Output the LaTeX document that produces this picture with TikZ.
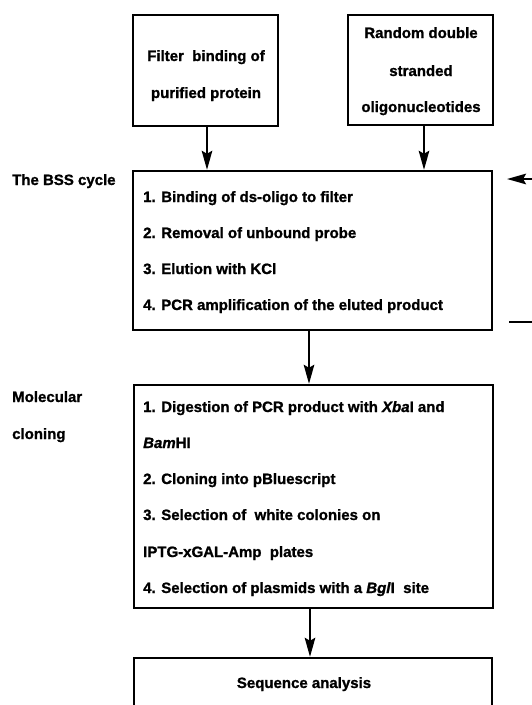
\documentclass[tikz,border=0pt]{standalone}
\usepackage{fontspec}
\setmainfont{Liberation Sans}[BoldFeatures={FakeBold=1.2},BoldItalicFeatures={FakeBold=1.2}]
\usetikzlibrary{arrows.meta}
\tikzset{
  box/.style={draw=black, line width=2.4pt, rectangle, inner sep=0pt},
  txt/.style={inner sep=0pt, anchor=base west, font=\fontsize{15}{18}\selectfont\bfseries},
  ctxt/.style={inner sep=0pt, anchor=base, font=\fontsize{15}{18}\selectfont\bfseries},
  arr/.style={line width=2.4pt, -{Stealth[length=19pt,width=10.5pt,inset=3pt]}},
  ln/.style={line width=2.4pt}
}
\begin{document}
\begin{tikzpicture}[x=1pt,y=-1pt]
\clip (0,0) rectangle (532,705);
\fill[white] (0,0) rectangle (532,705);
% boxes
\node[box, minimum width=145pt, minimum height=111pt] (filt) at (205.5,70.5) {};
\node[box, minimum width=145pt, minimum height=110pt] (rand) at (420.5,70) {};
\node[box, minimum width=359pt, minimum height=159pt] (bss) at (312.5,250.5) {};
\node[box, minimum width=359pt, minimum height=223pt] (mol) at (313.5,496.5) {};
\node[box, minimum width=358pt, minimum height=72pt] (seq) at (313,694) {};
% top box texts
\node[ctxt] (f1) at (206,61) {Filter\ \ binding of};
\node[ctxt] (f2) at (206,98) {purified protein};
\node[ctxt] (r1) at (421,38) {Random double};
\node[ctxt] (r2) at (421,76) {stranded};
\node[ctxt] (r3) at (421,112) {oligonucleotides};
% side labels
\node[txt] (lbss) at (12,185) {The BSS cycle};
\node[txt] (lmol1) at (12,402) {Molecular};
\node[txt] (lmol2) at (12,439) {cloning};
% BSS cycle steps
\node[txt] (b1) at (143,202) {1. Binding of ds-oligo to filter};
\node[txt] (b2) at (143,238) {2. Removal of unbound probe};
\node[txt] (b3) at (143,274) {3. Elution with KCl};
\node[txt] (b4) at (143,310) {4. PCR amplification of the eluted product};
% cloning steps
\node[txt] (m1) at (143,412) {1. Digestion of PCR product with \textit{Xba}I and};
\node[txt] (m2) at (143,448) {\textit{Bam}HI};
\node[txt] (m3) at (143,484) {2. Cloning into pBluescript};
\node[txt] (m4) at (143,520) {3. Selection of\ \ white colonies on};
\node[txt] (m5) at (143,557) {IPTG-xGAL-Amp\ \ plates};
\node[txt] (m6) at (143,593) {4. Selection of plasmids with a \textit{Bgl}I\ \ site};
% sequence
\node[ctxt] (s1) at (304,688) {Sequence analysis};
% connectors
\draw[arr] ([xshift=1.5pt]filt.south) -- ([xshift=1.5pt]filt.south |- bss.north);
\draw[arr] ([xshift=3.5pt]rand.south) -- ([xshift=3.5pt]rand.south |- bss.north);
\draw[arr] ([xshift=-3.5pt]bss.south) -- ([xshift=-3.5pt]bss.south |- mol.north);
\draw[arr] ([xshift=-3.5pt]mol.south) -- ([xshift=-3.5pt]mol.south |- seq.north);
% feedback stubs
\coordinate (fbin) at (534,179);
\coordinate (fbtip) at (507,179);
\coordinate (fbout1) at (509,322);
\coordinate (fbout2) at (534,322);
\draw[arr] (fbin) -- (fbtip);
\draw[ln] (fbout1) -- (fbout2);
\end{tikzpicture}
\end{document}
